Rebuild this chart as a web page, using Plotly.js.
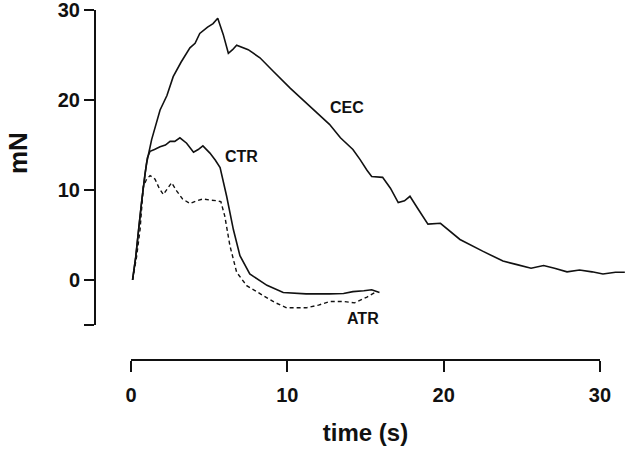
<!DOCTYPE html>
<html>
<head>
<meta charset="utf-8">
<script src="https://cdn.plot.ly/plotly-3.0.1.min.js"></script>
<style>
  html, body { margin: 0; padding: 0; background: #fff; }
  #chart { width: 640px; height: 451px; }
</style>
</head>
<body>
<div id="chart"></div>
<script>
// force traces, time in s, force in mN
const cecTime = [0.1, 0.3, 0.5, 0.7, 0.9, 1.0, 1.32, 1.86, 2.3, 2.7, 3.2, 3.77, 4.1, 4.4, 4.9, 5.25, 5.55, 5.9, 6.23, 6.5, 6.76,
    7.5, 8.25, 9.1, 10.2, 11.45, 12.7, 13.4, 14.2, 14.65, 15.1, 15.4, 16.1, 16.6, 17.1, 17.5, 17.85, 18.4, 19.0, 19.8,
    21.05, 22.5, 23.8, 24.7, 25.6, 26.4, 27.1, 27.9, 28.7, 29.5, 30.2, 31.0, 31.6];
const cecForce = [0, 2.5, 5.8, 9.0, 11.8, 13.0, 15.6, 18.9, 20.5, 22.6, 24.2, 25.8, 26.3, 27.4, 28.1, 28.5, 29.1, 27.3, 25.2, 25.6, 26.1,
    25.6, 24.7, 23.2, 21.3, 19.3, 17.3, 15.8, 14.5, 13.4, 12.2, 11.5, 11.4, 10.2, 8.6, 8.8, 9.3, 7.8, 6.2, 6.3,
    4.5, 3.2, 2.1, 1.7, 1.3, 1.6, 1.3, 0.9, 1.1, 0.9, 0.66, 0.85, 0.85];

const ctrTime = [0.1, 0.3, 0.5, 0.7, 0.9, 1.05, 1.22, 1.5, 1.86, 2.2, 2.5, 2.8, 3.13, 3.56, 4.0, 4.3, 4.6, 5.05, 5.4, 5.7, 6.12,
    6.55, 6.97, 7.6, 8.7, 9.74, 11.2, 12.7, 13.6, 14.2, 14.9, 15.4, 15.9];
const ctrForce = [0, 2.5, 5.8, 9.0, 11.8, 13.6, 14.3, 14.5, 14.8, 15.0, 15.4, 15.4, 15.8, 15.2, 14.2, 14.5, 14.9, 14.1, 13.3, 12.5, 9.3,
    5.6, 2.7, 0.66, -0.6, -1.4, -1.55, -1.55, -1.5, -1.3, -1.2, -1.1, -1.4];

const atrTime = [0.1, 0.35, 0.58, 0.79, 1.0, 1.22, 1.54, 1.8, 2.07, 2.35, 2.6, 2.92, 3.3, 3.77, 4.2, 4.6, 5.0, 5.48, 5.75, 6.0,
    6.33, 6.76, 7.4, 8.46, 9.2, 9.96, 11.2, 12.0, 12.7, 13.6, 14.3, 15.1, 15.7];
const atrForce = [0, 2.5, 5.6, 10.4, 11.2, 11.6, 11.2, 10.2, 9.5, 10.2, 10.8, 9.9, 9.0, 8.5, 8.8, 9.0, 8.9, 8.8, 8.7, 7.1,
    3.8, 0.85, -0.63, -1.74, -2.5, -3.1, -3.1, -2.8, -2.4, -2.4, -2.55, -1.9, -1.3];

const xTickVals = [0, 10, 20, 30];
const yTickVals = [-5, 0, 10, 20, 30];
const yTickText = ['', '0', '10', '20', '30'];   // bottom end tick has no label
const seriesNames = ['CEC', 'CTR', 'ATR'];

const ink = '#111';
const fontFam = '"Liberation Sans", Arial, sans-serif';

let data = [{
    x: cecTime, y: cecForce, name: seriesNames[0],
    mode: 'lines', line: { color: ink, width: 1.6, simplify: false },
}, {
    x: ctrTime, y: ctrForce, name: seriesNames[1],
    mode: 'lines', line: { color: ink, width: 1.6, simplify: false },
}, {
    x: atrTime, y: atrForce, name: seriesNames[2],
    mode: 'lines', line: { color: ink, width: 1.4, dash: '4px,3px', simplify: false },
}, {
    // empty trace, only so the detached time axis gets drawn
    x: [], y: [], xaxis: 'x2', yaxis: 'y', mode: 'lines', hoverinfo: 'skip',
}];

let layout = {
    width: 640,
    height: 451,
    margin: { l: 95, r: 10, t: 10, b: 91, pad: 0 },
    paper_bgcolor: '#fff',
    plot_bgcolor: 'rgba(0,0,0,0)',
    showlegend: false,
    font: { family: fontFam, color: ink },
    // data axis, hidden; runs past 30 s because CEC does
    xaxis: {
        visible: false,
        domain: [0.0673, 1],
        range: [0, 31.93],
    },
    // the drawn time axis, detached below the plot
    xaxis2: {
        domain: [0.0673, 0.9439],
        range: [0, 30],
        anchor: 'free',
        position: 0,
        showline: true, linewidth: 2, linecolor: ink,
        ticks: 'outside', ticklen: 11, tickwidth: 2, tickcolor: ink,
        tickvals: xTickVals,
        ticklabelstandoff: 6,
        ticklabeloverflow: 'allow',
        tickfont: { family: fontFam, size: 20, weight: 'bold', color: ink },
        showgrid: false, zeroline: false,
        title: { text: 'time (s)', standoff: 18, font: { family: fontFam, size: 24, weight: 'bold', color: ink } },
    },
    yaxis: {
        domain: [0.1, 1],
        range: [-5.01, 30.01],
        anchor: 'free',
        position: 0,
        showline: true, linewidth: 2, linecolor: ink,
        ticks: 'outside', ticklen: 10, tickwidth: 1.5, tickcolor: ink,
        tickvals: yTickVals,
        ticktext: yTickText,
        ticklabeloverflow: 'allow',
        tickfont: { family: fontFam, size: 20, weight: 'bold', color: ink },
        showgrid: false, zeroline: false,
    },
    annotations: [
        { x: 13.8, y: 19.2, text: seriesNames[0] },
        { x: 7.1, y: 13.7, text: seriesNames[1] },
        { x: 14.85, y: -4.3, text: seriesNames[2] },
    ].map(a => Object.assign(a, {
        xref: 'x', yref: 'y', showarrow: false,
        font: { family: fontFam, size: 16, weight: 'bold', color: ink },
    })).concat([{
        // y title sits a little above the axis middle in the original
        xref: 'paper', yref: 'paper', x: -0.144, y: 0.591,
        xanchor: 'center', yanchor: 'middle',
        text: 'mN', textangle: -90, showarrow: false,
        font: { family: fontFam, size: 26, weight: 'bold', color: ink },
    }]),
};

let config = { staticPlot: true, displayModeBar: false };

Plotly.newPlot('chart', data, layout, config);
</script>
</body>
</html>
